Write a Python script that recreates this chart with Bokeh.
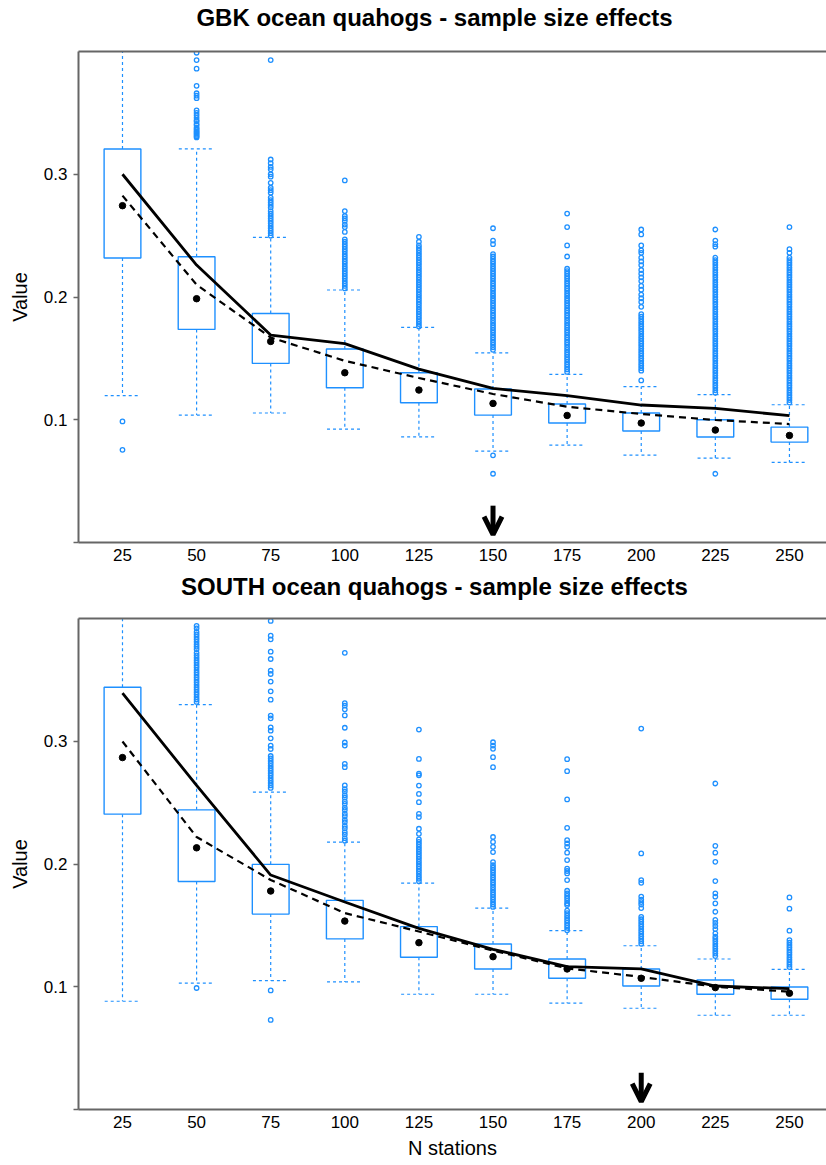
from bokeh.plotting import figure
from bokeh.layouts import column
from bokeh.models import Range1d, FixedTicker, LinearAxis, Arrow, OpenHead
from bokeh.core.properties import value
from bokeh.embed import file_html
from bokeh.resources import INLINE

# ---------------- data ----------------
N_STATIONS = [25, 50, 75, 100, 125, 150, 175, 200, 225, 250]

GBK_TITLE = "GBK ocean quahogs - sample size effects"
GBK_Q1 = [0.2318, 0.1736, 0.1459, 0.1261, 0.1139, 0.1038, 0.0973, 0.0908, 0.0859, 0.0818]
GBK_Q3 = [0.3206, 0.2328, 0.1866, 0.1576, 0.1383, 0.1250, 0.1128, 0.1055, 0.1000, 0.0940]
GBK_WLO = [0.1196, 0.1038, 0.1055, 0.0924, 0.0861, 0.0745, 0.0794, 0.0712, 0.0688, 0.0652]
GBK_WHI = [0.4200, 0.3206, 0.2486, 0.2057, 0.1752, 0.1544, 0.1370, 0.1270, 0.1204, 0.1122]
GBK_MEAN = [0.2744, 0.1986, 0.1638, 0.1383, 0.1242, 0.1133, 0.1035, 0.0973, 0.0916, 0.0872]
GBK_SOLID = [0.3000, 0.2260, 0.1690, 0.1620, 0.1413, 0.1255, 0.1196, 0.1120, 0.1092, 0.1033]
GBK_DASHED = [0.2826, 0.2100, 0.1670, 0.1480, 0.1340, 0.1210, 0.1106, 0.1047, 0.0998, 0.0965]
GBK_ARROW = [150]

GBK_OUT_025 = [0.0986, 0.0755]
GBK_OUT_050 = [0.399, 0.393, 0.386, 0.372, 0.366, 0.364, 0.362, 0.352, 0.350, 0.348, 0.346,
               0.344, 0.343, 0.341, 0.340, 0.338, 0.337, 0.336, 0.335, 0.334, 0.333, 0.332,
               0.331, 0.330]
GBK_OUT_075 = [0.393, 0.312, 0.309, 0.306, 0.304, 0.300, 0.298, 0.293, 0.289, 0.287, 0.285,
               0.281, 0.279, 0.277, 0.275, 0.273, 0.270, 0.268, 0.266, 0.264, 0.262, 0.260,
               0.258, 0.256, 0.254, 0.252, 0.250]
GBK_OUT_100 = [0.295, 0.270, 0.266, 0.264, 0.262, 0.259, 0.257, 0.253, 0.247, 0.245, 0.243,
               0.241, 0.239, 0.237, 0.235, 0.233, 0.231, 0.229, 0.227, 0.225, 0.223, 0.221,
               0.219, 0.217, 0.215, 0.213, 0.211, 0.209, 0.207]
GBK_OUT_125 = [0.249, 0.245, 0.242, 0.240, 0.238, 0.236, 0.234, 0.232, 0.230, 0.228, 0.226,
               0.224, 0.222, 0.220, 0.218, 0.216, 0.214, 0.212, 0.210, 0.208, 0.206, 0.204,
               0.202, 0.200, 0.198, 0.196, 0.194, 0.192, 0.190, 0.188, 0.186, 0.184, 0.182,
               0.180, 0.178, 0.176]
GBK_OUT_150 = [0.256, 0.246, 0.243, 0.235, 0.233, 0.231, 0.229, 0.227, 0.225, 0.223, 0.221,
               0.219, 0.217, 0.215, 0.213, 0.211, 0.209, 0.207, 0.205, 0.203, 0.201, 0.199,
               0.197, 0.195, 0.193, 0.191, 0.189, 0.187, 0.185, 0.183, 0.181, 0.179, 0.177,
               0.175, 0.173, 0.171, 0.169, 0.167, 0.165, 0.163, 0.161, 0.159, 0.157, 0.071,
               0.056]
GBK_OUT_175 = [0.268, 0.257, 0.242, 0.233, 0.223, 0.221, 0.219, 0.217, 0.215, 0.213, 0.211,
               0.209, 0.207, 0.205, 0.203, 0.201, 0.199, 0.197, 0.195, 0.193, 0.191, 0.189,
               0.187, 0.185, 0.183, 0.181, 0.179, 0.177, 0.175, 0.173, 0.171, 0.169, 0.167,
               0.165, 0.163, 0.161, 0.159, 0.157, 0.155, 0.153, 0.151, 0.149, 0.147, 0.145,
               0.143, 0.141, 0.139]
GBK_OUT_200 = [0.255, 0.251, 0.242, 0.238, 0.236, 0.232, 0.229, 0.226, 0.222, 0.219, 0.216,
               0.213, 0.209, 0.206, 0.202, 0.199, 0.196, 0.192, 0.186, 0.184, 0.182, 0.180,
               0.178, 0.176, 0.174, 0.172, 0.170, 0.168, 0.166, 0.164, 0.162, 0.160, 0.158,
               0.156, 0.154, 0.152, 0.150, 0.148, 0.146, 0.144, 0.142, 0.140, 0.132]
GBK_OUT_225 = [0.255, 0.246, 0.243, 0.241, 0.232, 0.230, 0.228, 0.226, 0.224, 0.222, 0.220,
               0.218, 0.216, 0.214, 0.212, 0.210, 0.208, 0.206, 0.204, 0.202, 0.200, 0.198,
               0.196, 0.194, 0.192, 0.190, 0.188, 0.186, 0.184, 0.182, 0.180, 0.178, 0.176,
               0.174, 0.172, 0.170, 0.168, 0.166, 0.164, 0.162, 0.160, 0.158, 0.156, 0.154,
               0.152, 0.150, 0.148, 0.146, 0.144, 0.142, 0.140, 0.138, 0.136, 0.134, 0.132,
               0.130, 0.128, 0.126, 0.124, 0.122, 0.056]
GBK_OUT_250 = [0.257, 0.239, 0.236, 0.232, 0.230, 0.228, 0.226, 0.224, 0.222, 0.220, 0.218,
               0.216, 0.214, 0.212, 0.210, 0.208, 0.206, 0.204, 0.202, 0.200, 0.198, 0.196,
               0.194, 0.192, 0.190, 0.188, 0.186, 0.184, 0.182, 0.180, 0.178, 0.176, 0.174,
               0.172, 0.170, 0.168, 0.166, 0.164, 0.162, 0.160, 0.158, 0.156, 0.154, 0.152,
               0.150, 0.148, 0.146, 0.144, 0.142, 0.140, 0.138, 0.136, 0.134, 0.132, 0.130,
               0.128, 0.126, 0.124, 0.122, 0.120, 0.118, 0.116, 0.114]

SOUTH_TITLE = "SOUTH ocean quahogs - sample size effects"
SOUTH_Q1 = [0.2406, 0.1858, 0.1592, 0.1390, 0.1240, 0.1145, 0.1069, 0.1006, 0.0939, 0.0898]
SOUTH_Q3 = [0.3440, 0.2441, 0.1997, 0.1704, 0.1490, 0.1348, 0.1226, 0.1145, 0.1055, 0.0998]
SOUTH_WLO = [0.0882, 0.1030, 0.1050, 0.1039, 0.0939, 0.0939, 0.0866, 0.0825, 0.0768, 0.0768]
SOUTH_WHI = [0.4300, 0.3298, 0.2585, 0.2178, 0.1845, 0.1641, 0.1457, 0.1334, 0.1226, 0.1142]
SOUTH_MEAN = [0.2867, 0.2132, 0.1780, 0.1535, 0.1359, 0.1245, 0.1145, 0.1069, 0.0993, 0.0947]
SOUTH_SOLID = [0.3393, 0.2640, 0.1910, 0.1690, 0.1476, 0.1305, 0.1164, 0.1145, 0.1006, 0.0984]
SOUTH_DASHED = [0.2998, 0.2220, 0.1870, 0.1600, 0.1450, 0.1295, 0.1150, 0.1080, 0.1000, 0.0960]
SOUTH_ARROW = [200]

SOUTH_OUT_025 = []
SOUTH_OUT_050 = [0.394, 0.392, 0.389, 0.387, 0.385, 0.383, 0.381, 0.379, 0.377, 0.375, 0.372,
                 0.370, 0.368, 0.366, 0.364, 0.362, 0.360, 0.358, 0.356, 0.354, 0.352, 0.350,
                 0.348, 0.346, 0.344, 0.342, 0.340, 0.338, 0.336, 0.334, 0.332, 0.099]
SOUTH_OUT_075 = [0.398, 0.386, 0.383, 0.373, 0.367, 0.3575, 0.3548, 0.3486, 0.3407, 0.3339,
                 0.3209, 0.3187, 0.3113, 0.3086, 0.3024, 0.2964, 0.2937, 0.288, 0.286, 0.284,
                 0.282, 0.280, 0.278, 0.276, 0.274, 0.272, 0.270, 0.268, 0.266, 0.264, 0.262,
                 0.097, 0.073]
SOUTH_OUT_100 = [0.372, 0.331, 0.329, 0.326, 0.321, 0.311, 0.299, 0.2965, 0.2816, 0.2789,
                 0.264, 0.261, 0.259, 0.256, 0.254, 0.251, 0.249, 0.246, 0.244, 0.241, 0.239,
                 0.236, 0.234, 0.231, 0.229, 0.226, 0.224, 0.221, 0.219]
SOUTH_OUT_125 = [0.3095, 0.2856, 0.2736, 0.2722, 0.2639, 0.2571, 0.2504, 0.2409, 0.2382,
                 0.2287, 0.2246, 0.220, 0.218, 0.216, 0.214, 0.212, 0.210, 0.208, 0.206,
                 0.204, 0.202, 0.200, 0.198, 0.196, 0.194, 0.192, 0.190, 0.188, 0.186]
SOUTH_OUT_150 = [0.2992, 0.2965, 0.2938, 0.287, 0.2789, 0.222, 0.218, 0.214, 0.2097, 0.2016,
                 0.199, 0.197, 0.195, 0.193, 0.191, 0.189, 0.187, 0.185, 0.183, 0.181, 0.179,
                 0.177, 0.175, 0.173, 0.171, 0.169, 0.167, 0.165]
SOUTH_OUT_175 = [0.2854, 0.2756, 0.2526, 0.2295, 0.2194, 0.2167, 0.214, 0.2092, 0.2032,
                 0.1963, 0.1943, 0.1923, 0.1869, 0.1782, 0.176, 0.174, 0.172, 0.170, 0.168,
                 0.1666, 0.162, 0.160, 0.158, 0.156, 0.154, 0.152, 0.150, 0.148, 0.146]
SOUTH_OUT_200 = [0.3103, 0.2086, 0.1869, 0.1847, 0.1735, 0.171, 0.169, 0.167, 0.1641, 0.157,
                 0.155, 0.153, 0.151, 0.149, 0.147, 0.145, 0.143, 0.141, 0.139, 0.137, 0.135]
SOUTH_OUT_225 = [0.2656, 0.2148, 0.2092, 0.2018, 0.1861, 0.1761, 0.1734, 0.1679, 0.1611,
                 0.1544, 0.152, 0.1495, 0.147, 0.1435, 0.1408, 0.139, 0.137, 0.135, 0.133,
                 0.131, 0.129, 0.127, 0.125]
SOUTH_OUT_250 = [0.1728, 0.1636, 0.1457, 0.138, 0.136, 0.134, 0.132, 0.130, 0.128, 0.126,
                 0.124, 0.122, 0.120, 0.118, 0.116]

Y_TICKS = [0, 0.1, 0.2, 0.3]

GBK_OUTLIERS = [GBK_OUT_025, GBK_OUT_050, GBK_OUT_075, GBK_OUT_100, GBK_OUT_125,
                GBK_OUT_150, GBK_OUT_175, GBK_OUT_200, GBK_OUT_225, GBK_OUT_250]
SOUTH_OUTLIERS = [SOUTH_OUT_025, SOUTH_OUT_050, SOUTH_OUT_075, SOUTH_OUT_100, SOUTH_OUT_125,
                  SOUTH_OUT_150, SOUTH_OUT_175, SOUTH_OUT_200, SOUTH_OUT_225, SOUTH_OUT_250]

# ---------------- style ----------------
BLUE = "#1E90FF"
AXIS_COLOR = "#666666"
FONT = "Liberation Sans"
WIDTH = 826
FRAME_LEFT = 78
X_MIN, X_MAX = 10.16, 262.5
BOX_W = 12.4
CAP_HALF = 6.0
TITLE_H = 40
TITLE_CX = 434


def make_title(text, baseline_from_bottom):
    # strip figure whose x range is in page pixels (frame spans FRAME_LEFT..WIDTH)
    t = figure(width=WIDTH, height=TITLE_H, output_backend="svg", toolbar_location=None,
               x_range=Range1d(FRAME_LEFT, WIDTH), y_range=Range1d(0, TITLE_H),
               min_border_left=FRAME_LEFT, min_border_right=0, min_border_top=0,
               min_border_bottom=0, x_axis_type=None, y_axis_type=None)
    t.outline_line_color = None
    t.grid.visible = False
    t.background_fill_color = "white"
    t.border_fill_color = "white"
    t.text(x=[TITLE_CX], y=[baseline_from_bottom], text=[text],
           text_font=value(FONT), text_font_size="24px", text_font_style="bold",
           text_color="black", text_align="center", text_baseline="alphabetic")
    return t


def make_panel(q1, q3, wlo, whi, mean, solid, dashed, outliers,
               arrow_x, height, border_top, border_bottom, xlabel):
    p = figure(width=WIDTH, height=height, output_backend="svg", toolbar_location=None,
               x_range=Range1d(X_MIN, X_MAX), y_range=Range1d(0, 0.4),
               min_border_left=FRAME_LEFT, min_border_right=0,
               min_border_top=border_top, min_border_bottom=border_bottom)
    p.outline_line_color = None
    p.grid.visible = False
    p.background_fill_color = "white"
    p.border_fill_color = "white"

    xa = p.below[0]
    ya = p.left[0]

    top_axis = LinearAxis(ticker=FixedTicker(ticks=[]), axis_line_color=AXIS_COLOR,
                          axis_line_width=2, major_tick_line_color=None,
                          minor_tick_line_color=None, major_label_text_font_size="0px",
                          major_tick_out=0, major_tick_in=0, major_label_standoff=0,
                          axis_label_standoff=0)
    p.add_layout(top_axis, "above")

    xa.ticker = FixedTicker(ticks=N_STATIONS)
    xa.axis_line_color = AXIS_COLOR
    xa.axis_line_width = 2
    xa.major_tick_line_color = None
    xa.minor_tick_line_color = None
    xa.major_tick_out = 0
    xa.major_tick_in = 0
    xa.major_label_standoff = 6
    xa.major_label_text_font = FONT
    xa.major_label_text_font_size = "17px"
    xa.major_label_text_color = "black"
    if xlabel:
        xa.axis_label = xlabel
        xa.axis_label_text_font = FONT
        xa.axis_label_text_font_size = "20px"
        xa.axis_label_text_font_style = "normal"
        xa.axis_label_text_color = "black"
        xa.axis_label_standoff = 6

    ya.ticker = FixedTicker(ticks=Y_TICKS)
    ya.major_label_overrides = {0: ""}
    ya.axis_line_color = AXIS_COLOR
    ya.axis_line_width = 2
    ya.major_tick_line_color = AXIS_COLOR
    ya.major_tick_line_width = 1.5
    ya.major_tick_out = 5
    ya.major_tick_in = 0
    ya.minor_tick_line_color = None
    ya.major_label_standoff = 6
    ya.major_label_text_font = FONT
    ya.major_label_text_font_size = "17px"
    ya.major_label_text_color = "black"
    ya.axis_label = "Value"
    ya.axis_label_text_font = FONT
    ya.axis_label_text_font_size = "20px"
    ya.axis_label_text_font_style = "normal"
    ya.axis_label_text_color = "black"
    ya.axis_label_standoff = 10

    # whiskers
    p.segment(x0=N_STATIONS, y0=q3, x1=N_STATIONS, y1=whi, line_color=BLUE,
              line_width=1.2, line_dash="3 3")
    p.segment(x0=N_STATIONS, y0=q1, x1=N_STATIONS, y1=wlo, line_color=BLUE,
              line_width=1.2, line_dash="3 3")
    cap_l = [n - CAP_HALF for n in N_STATIONS]
    cap_r = [n + CAP_HALF for n in N_STATIONS]
    p.segment(x0=cap_l, y0=whi, x1=cap_r, y1=whi, line_color=BLUE, line_width=1.2,
              line_dash="3 3")
    p.segment(x0=cap_l, y0=wlo, x1=cap_r, y1=wlo, line_color=BLUE, line_width=1.2,
              line_dash="3 3")

    # boxes
    p.vbar(x=N_STATIONS, width=BOX_W, bottom=q1, top=q3, fill_color="white",
           line_color=BLUE, line_width=1.4)

    # outliers
    ox, oy = [], []
    for n, vals in zip(N_STATIONS, outliers):
        ox.extend([n] * len(vals))
        oy.extend(vals)
    p.scatter(x=ox, y=oy, marker="circle", size=4.5, fill_color=None,
              line_color=BLUE, line_width=1.3)

    # lines and means
    p.line(N_STATIONS, dashed, line_color="black", line_width=2.2, line_dash="7 5")
    p.line(N_STATIONS, solid, line_color="black", line_width=2.8)
    p.scatter(N_STATIONS, mean, marker="circle", size=6.5, color="black")

    # arrow marking chosen sample size
    for ax in arrow_x:
        p.add_layout(Arrow(end=OpenHead(size=18, line_width=5, line_color="black"),
                           x_start=ax, y_start=0.030, x_end=ax, y_end=0.0065,
                           line_width=5, line_color="black"))
    return p


t1 = make_title(GBK_TITLE, 23)
p1 = make_panel(GBK_Q1, GBK_Q3, GBK_WLO, GBK_WHI, GBK_MEAN, GBK_SOLID,
                GBK_DASHED, GBK_OUTLIERS, GBK_ARROW, 528, 11, 26, None)
t2 = make_title(SOUTH_TITLE, 22)
p2 = make_panel(SOUTH_Q1, SOUTH_Q3, SOUTH_WLO, SOUTH_WHI, SOUTH_MEAN,
                SOUTH_SOLID, SOUTH_DASHED, SOUTH_OUTLIERS, SOUTH_ARROW, 557, 10, 56,
                "N stations")

layout = column(t1, p1, t2, p2, spacing=0)
open("out.html", "w").write(file_html(layout, INLINE))
